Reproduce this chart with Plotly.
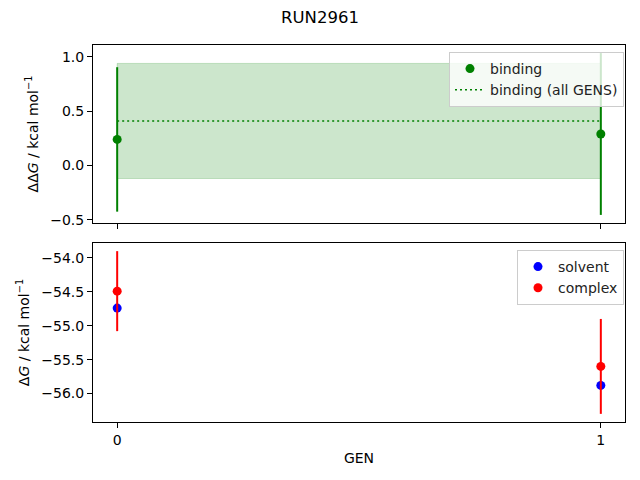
import plotly.graph_objects as go
from plotly.subplots import make_subplots

# values
gens = [0, 1]
binding = [0.24, 0.29]
binding_err = [0.665, 0.745]
binding_all = 0.41
binding_all_err = 0.53
solvent = [-54.74, -55.88]
complex_dg = [-54.49, -55.60]
complex_err = [0.59, 0.70]

GREEN = "#008000"
FONT = "DejaVu Sans"
W, H = 640, 480
PAGE_OFFSET = 8  # the page body margin shifts the figure by this many pixels


def px_x(px):
    return (px - PAGE_OFFSET) / W


def px_y(py):
    return 1 - (py - PAGE_OFFSET) / H


def auto_range(lo, hi, margin=0.05):
    # same padding matplotlib applies when autoscaling
    pad = (hi - lo) * margin
    return [lo - pad, hi + pad]


fig = make_subplots(rows=2, cols=1, shared_xaxes=True)

# ---- top panel: binding ----
band_lo = binding_all - binding_all_err
band_hi = binding_all + binding_all_err
fig.add_trace(go.Scatter(
    x=[gens[0], gens[-1], gens[-1], gens[0], gens[0]],
    y=[band_lo, band_lo, band_hi, band_hi, band_lo],
    fill="toself", fillcolor="rgba(0,128,0,0.2)",
    line=dict(color="rgba(0,128,0,0.2)", width=1),
    mode="lines", showlegend=False, hoverinfo="skip",
), row=1, col=1)
fig.add_trace(go.Scatter(
    x=[gens[0], gens[-1]], y=[binding_all, binding_all],
    mode="lines", line=dict(color=GREEN, width=1.5, dash="2px,3px"),
    name="binding (all GENS)", legend="legend",
), row=1, col=1)
fig.add_trace(go.Scatter(
    x=gens, y=binding, mode="markers",
    marker=dict(color=GREEN, size=9),
    error_y=dict(type="data", array=binding_err, color=GREEN, thickness=2, width=0),
    name="binding", legend="legend",
), row=1, col=1)

# ---- bottom panel: solvent / complex ----
fig.add_trace(go.Scatter(
    x=gens, y=solvent, mode="markers",
    marker=dict(color="blue", size=9),
    name="solvent", legend="legend2",
), row=2, col=1)
fig.add_trace(go.Scatter(
    x=gens, y=complex_dg, mode="markers",
    marker=dict(color="red", size=9),
    error_y=dict(type="data", array=complex_err, color="red", thickness=2, width=0),
    name="complex", legend="legend2",
), row=2, col=1)

top_lo = min(b - e for b, e in zip(binding, binding_err))
top_hi = max(b + e for b, e in zip(binding, binding_err))
bot_lo = min(min(solvent), min(c - e for c, e in zip(complex_dg, complex_err)))
bot_hi = max(max(solvent), max(c + e for c, e in zip(complex_dg, complex_err)))

axis_style = dict(showline=True, linecolor="black", linewidth=1, mirror=True,
                  ticks="outside", ticklen=5, tickcolor="black", showgrid=False,
                  zeroline=False, automargin=False,
                  tickfont=dict(size=14, color="black"))

fig.update_xaxes(**axis_style, range=[-0.05, 1.05], tickvals=gens,
                 domain=[px_x(93), px_x(625)])
fig.update_xaxes(showticklabels=False, row=1, col=1)
fig.update_xaxes(title=dict(text="GEN", font=dict(size=14, color="black"), standoff=6), row=2, col=1)

fig.update_yaxes(**axis_style)
fig.update_yaxes(range=auto_range(top_lo, top_hi), tickvals=[-0.5, 0.0, 0.5, 1.0],
                 tickformat=".1f", domain=[px_y(223), px_y(45)],
                 title=dict(text="ΔΔ<i>G</i> / kcal mol<sup>−1</sup>",
                            font=dict(size=14, color="black"), standoff=8),
                 row=1, col=1)
fig.update_yaxes(range=auto_range(bot_lo, bot_hi), tickvals=[-56.0, -55.5, -55.0, -54.5, -54.0],
                 tickformat=".1f", domain=[px_y(422), px_y(243)],
                 title=dict(text="Δ<i>G</i> / kcal mol<sup>−1</sup>",
                            font=dict(size=14, color="black"), standoff=8),
                 row=2, col=1)

legend_style = dict(xanchor="right", yanchor="top", bgcolor="rgba(255,255,255,0.8)",
                    bordercolor="#cccccc", borderwidth=1,
                    font=dict(size=14, color="#222222"), tracegroupgap=0)

fig.update_layout(
    width=W, height=H,
    margin=dict(l=0, r=0, t=0, b=0, autoexpand=False),
    paper_bgcolor="white", plot_bgcolor="white",
    font=dict(family=FONT, color="black"),
    title=dict(text="RUN2961", x=px_x(320), xanchor="center", y=px_y(17), yanchor="middle",
               font=dict(size=16.5, color="black")),
    legend=dict(**legend_style, x=px_x(624), y=px_y(52), traceorder="reversed"),
    legend2=dict(**legend_style, x=px_x(624), y=px_y(250), traceorder="normal"),
)

fig.write_html("out.html")
